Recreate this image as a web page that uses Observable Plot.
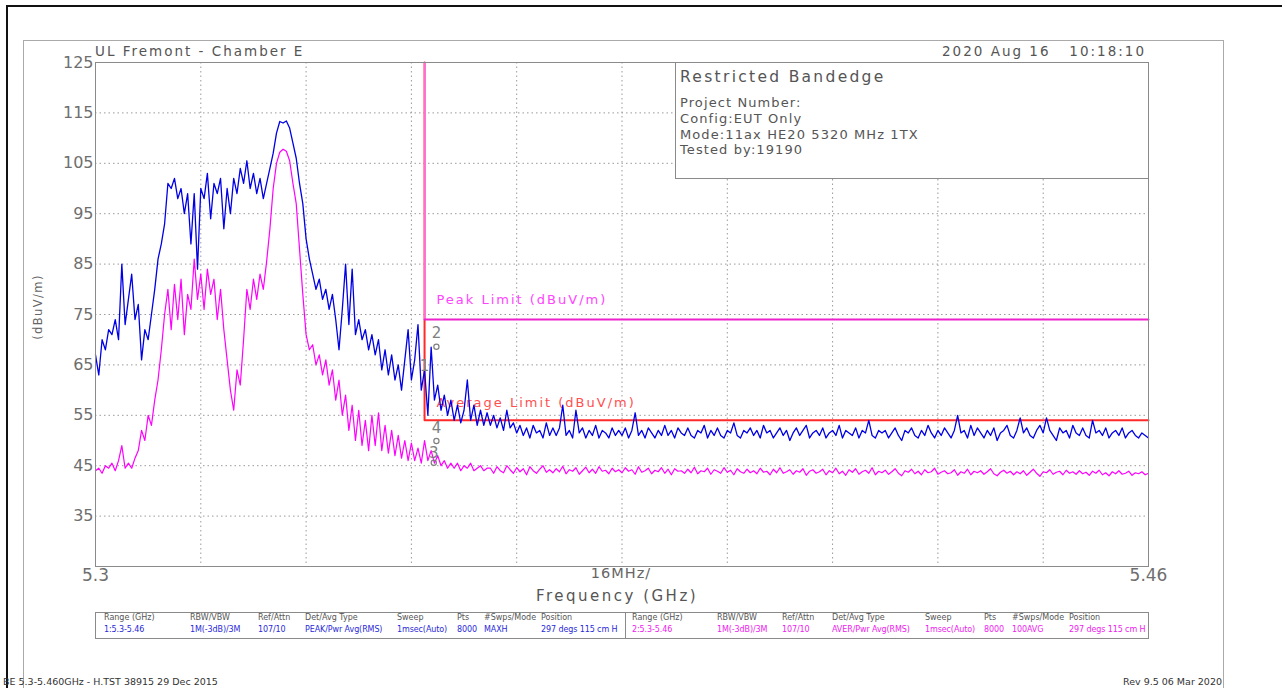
<!DOCTYPE html>
<html><head><meta charset="utf-8">
<script src="https://cdn.jsdelivr.net/npm/d3@7"></script>
<script src="https://cdn.jsdelivr.net/npm/@observablehq/plot@0.6"></script>
<style>
html,body{margin:0;padding:0;background:#fff;}
#page{position:relative;width:1282px;height:688px;overflow:hidden;font-family:"DejaVu Sans",sans-serif;}
#page svg{position:absolute;left:0;top:0;}
.t{position:absolute;white-space:pre;color:#555;line-height:1;}
.box{position:absolute;box-sizing:border-box;}
</style></head><body><div id="page"></div>
<script>
// Frequency sampling of the traces (GHz)
const startGHz = 5.3, stepGHz = 0.0005;

// Trace 1: Peak (MaxHold) in dBuV/m, one value every 0.5 MHz
const peakTrace = [
67,63,70,68,72,71,74,70,85,73,78,83,74,77,66,72,70,75,80,86,
89,93,101,100,102,98,100,95,99,89,99,84,100,98,103,94,101,99,102,92,
100,95,102,99,104,101,105.5,100,103,99,102,98,101,104,107,111,113.3,113,113.4,112,
109,106,101,97,90,86,83,80,82,78,80,76,79,74,68,76,85,73,84,71,
74,70,72,68,71,67,70,64,68,63,67,62,65,60,66,72,62,66,73,60,
64,55,68.5,58,61,56,59,55,58,54,57,53.5,56,62,54,57,53,56,53,55.5,
53,55,52.5,54.5,52,56,52.5,53.5,51.5,53,51,52.5,50.5,53,51.5,52,50.5,53.5,51,52.5,
51,52.5,57,51,52,50.5,56,51.5,52.5,50.5,52,51,53,50.5,52,51.5,50.5,52.5,51,52,
51,52.5,50.5,52,55.5,51,52,50.5,52.5,51.5,50.5,52,51,53,51,52,50.5,52.5,51.5,51,
52.5,51,50.5,52,51.5,53,50.5,52,51,52.5,51,50.5,52,51.5,53.5,51,50.5,52,51.5,52.5,
51,52,50.5,53,51.5,52,50.5,51.5,52.5,51,52,50,51.5,52.5,51,52,53,50.5,51.5,52,
51,52.5,50.5,51.5,52,51,53,50.5,52,51.5,51,52.5,50.5,52,51.5,54,51,50.5,52,51.5,
52,50.5,51.5,52.5,51,50,52,51.5,52.5,51,50.5,52,51,53,51.5,50.5,52,51,52.5,51.5,
50.5,52,55,51.5,52,50.5,53,51,52.5,51.5,50.5,52,51,52.5,50,51.5,52,53,51,50.5,
52,54.5,51.5,52.5,51,50.5,52,53,51.5,54.5,52,51,50,52.5,51.5,52,50.5,53,51.5,51,
52.5,51,50.5,54,51.5,52,51,52.5,50.5,51.5,52,51,52.5,50.5,51.5,52,51,50.5,51.5,51,
50.5
];

// Trace 2: Average in dBuV/m, one value every 0.5 MHz
const avgTrace = [
44,44.5,43.5,45,44.5,45.5,44,46,49,44.5,45.5,44.5,46.5,48,52,50,55,53,58,62,
68,75,80,72,81,74,82,71,79,76,86,78,83,76,84,79,82,74,80,72,
66,60,56,64,61,70,80,76,82,78,83,80,85.5,92,100,105,107.2,107.8,107.4,105.5,
101,97,88,79,71,68,69,65,67,63,66,61,64,58,62,55,59,52,57,50,
56,49,54,48,55,49,55.5,48,53,47.5,52,47,51,46.5,50,46,49.5,46,48.5,45.5,
50,46,48,45.5,47,45,46,44.5,45.5,44.5,45.5,44,45,44.5,45.5,44,44.5,45,44,44.5,
44.5,43.5,44.8,44,43.6,45,44.2,43.5,44.6,43.8,44.4,43.2,44.8,44,43.5,44.3,45,43.7,44.2,43.6,
44.4,43.8,44.9,43.4,44.2,43.9,44.6,43.3,44,44.7,43.6,44.3,43.5,44.8,43.9,44.1,43.4,44.5,43.8,44.2,
43.6,44.6,43.9,44.2,43.3,44.8,43.7,44,44.5,43.4,44.1,43.8,44.6,43.5,44.3,43.2,44.4,43.9,44,43.5,
44.3,43.6,44.7,43.4,44,43.8,44.5,43.3,44.2,43.9,43.5,44.6,43.7,44.1,43.2,44.4,43.8,43.5,44.3,43.6,
44,43.4,44.5,43.7,43.9,43.2,44.3,43.6,44.6,43.5,43.8,44.2,43.3,44,43.7,44.4,43.1,43.9,44.2,43.5,
43.8,44.3,43.2,44,43.6,44.5,43.4,43.9,43.1,44.2,43.7,44.4,43.3,43.8,44.1,43.5,44.6,43.2,43.9,43.6,
44.1,43.3,43.8,44.4,43.5,43,44,43.7,44.3,43.4,43.9,43.2,44.2,43.6,43.8,44.5,43.3,43.7,44,43.4,
43.6,44.2,43.1,43.8,43.5,44.3,43.2,43.9,43.6,44,43.3,43.8,44.4,43.4,43,43.7,44.1,43.5,43.9,43.2,
43.8,43.4,44,43.1,43.7,44.3,43.5,42.9,43.8,43.6,44.2,43.3,43.7,43.9,43.2,44.1,43.5,43.8,43.3,44,
43.4,43.7,43.1,43.9,43.5,44.1,43.2,43.6,43,43.8,43.4,44,43.3,43.5,43.9,43.1,43.6,43.4,43.8,43.2,
43.5
];

// Axes / grid
const yTicks = [125,115,105,95,85,75,65,55,45,35];
const yGrid = [115,105,95,85,75,65,55,45,35];
const xGrid = [5.316,5.332,5.348,5.364,5.38,5.396,5.412,5.428,5.444];
const xTickLabels = [5.3, 5.46];

// Limit lines (restricted band edge at 5.35 GHz)
const limitFreq = [5.35, 5.35, 5.46];
const peakLimit = [125, 74, 74];
const avgLimit = [125, 54, 54];
const limitLabelText = ["Peak Limit (dBuV/m)", "Average Limit (dBuV/m)"];
const limitLabelFreq = [5.3518, 5.3518];
const limitLabelVal = [78.0, 57.5];

// Marker labels and marker points
const markerText = ["2","1","4","3"];
const markerTextFreq = [5.3518,5.3500,5.3518,5.3514];
const markerTextVal = [71.2,64.8,52.4,47.5];
const markerPtFreq = [5.3518,5.3518,5.3514];
const markerPtVal = [68.6,49.9,45.6];

const FONT = '"DejaVu Sans", sans-serif';
const page = document.getElementById("page");

const idx = [0,1,2];
const chart = Plot.plot({
  width: 1282, height: 688,
  marginLeft: 95, marginRight: 134, marginTop: 62, marginBottom: 122,
  style: {background: "transparent", fontFamily: FONT, color: "#666", overflow: "visible"},
  x: {domain: [5.3, 5.46]},
  y: {domain: [25, 125]},
  marks: [
    Plot.ruleX(xGrid, {stroke: "#9a9a9a", strokeDasharray: "1.5,3", strokeWidth: 1}),
    Plot.ruleY(yGrid, {stroke: "#9a9a9a", strokeDasharray: "1.5,3", strokeWidth: 1}),
    Plot.axisY(yTicks, {tickSize: 0, tickPadding: 2, fontSize: 16, fill: "#6e6e6e", label: null}),
    Plot.axisX(xTickLabels, {tickSize: 0, tickPadding: 2, fontSize: 17, fill: "#6e6e6e", label: null,
      tickFormat: d => String(+d.toFixed(2))}),
    Plot.line(idx, {x: i => limitFreq[i], y: i => avgLimit[i], stroke: "#ff2a2a", strokeWidth: 2}),
    Plot.line(idx, {x: i => limitFreq[i], y: i => peakLimit[i], filter: i => i < 2, stroke: "#ff66ff", strokeWidth: 1.3}),
    Plot.line(idx, {x: i => limitFreq[i], y: i => peakLimit[i], filter: i => i >= 1, stroke: "#ee22cc", strokeWidth: 2}),
    Plot.text([0,1], {x: i => limitLabelFreq[i], y: i => limitLabelVal[i], text: i => limitLabelText[i],
      textAnchor: "start", fontSize: 13, fill: i => i === 0 ? "#ff44ff" : "#ff5050", fontFamily: FONT}),
    Plot.lineY(avgTrace, {x: (d,i) => startGHz + i*stepGHz, y: d => d, stroke: "#ff00ff", strokeWidth: 1.2}),
    Plot.lineY(peakTrace, {x: (d,i) => startGHz + i*stepGHz, y: d => d, stroke: "#0000e6", strokeWidth: 1.3}),
    Plot.dot([0,1,2], {x: i => markerPtFreq[i], y: i => markerPtVal[i], r: 2.6, stroke: "#808080", strokeWidth: 1.2, fill: "none"}),
    Plot.text([0,1,2,3], {x: i => markerTextFreq[i], y: i => markerTextVal[i], text: i => markerText[i],
      fontSize: 15, fill: "#808080", fontFamily: FONT}),
    Plot.frame({stroke: "#8a8a8a", strokeWidth: 1})
  ]
});
page.appendChild(chart);
// widen the stroke-font look of the limit labels
chart.querySelectorAll("text").forEach(t => {
  if (limitLabelText.includes(t.textContent)) t.style.letterSpacing = "2px";
});

function txt(s, left, top, size, color, extra) {
  const d = document.createElement("div");
  d.className = "t";
  d.textContent = s;
  d.style.left = left + "px"; d.style.top = top + "px";
  d.style.fontSize = size + "px"; d.style.color = color;
  if (extra) Object.assign(d.style, extra);
  page.appendChild(d);
  return d;
}
function box(left, top, w, h, style) {
  const d = document.createElement("div");
  d.className = "box";
  d.style.left = left + "px"; d.style.top = top + "px";
  d.style.width = w + "px"; d.style.height = h + "px";
  Object.assign(d.style, style);
  page.appendChild(d);
  return d;
}

// outer black border and grey sheet frame
box(6, 5, 1290, 700, {borderTop: "2px solid #111", borderLeft: "2px solid #111"});
box(23, 40, 1201, 700, {border: "1px solid #aaa"});

// header
txt("UL Fremont - Chamber E", 95, 45, 13.5, "#555", {letterSpacing: "2px"});
txt("2020 Aug 16   10:18:10", 0, 45, 13.5, "#555", {letterSpacing: "2px", width: "1146px", textAlign: "right", left: "0px"});

// info box
box(675, 62, 474, 117, {border: "1px solid #8a8a8a", background: "#fff"});
txt("Restricted Bandedge", 680, 70, 15.5, "#555", {letterSpacing: "2.3px"});
const infoLines = ["Project Number:", "Config:EUT Only", "Mode:11ax HE20 5320 MHz 1TX", "Tested by:19190"];
infoLines.forEach((s,i) => txt(s, 680, 96 + i*15.8, 13, "#555", {letterSpacing: "1.1px"}));

// y label
txt("(dBuV/m)", 39, 307, 11.5, "#666", {letterSpacing: "1.4px", transform: "translate(-50%,-50%) rotate(-90deg)"});

// x labels
txt("16MHz/", 621, 566, 14.5, "#666", {letterSpacing: "1px", transform: "translateX(-50%)"});
txt("Frequency (GHz)", 617, 589, 15, "#555", {letterSpacing: "2.5px", transform: "translateX(-50%)"});

// settings table
box(95, 612, 1054, 27, {border: "1px solid #8a8a8a"});
box(625, 612, 1, 27, {background: "#8a8a8a"});
const headers = ["Range (GHz)","RBW/VBW","Ref/Attn","Det/Avg Type","Sweep","Pts","#Swps/Mode","Position"];
const colsL = [104,190,258,305,397,457,484,541];
const colsR = [632,717,782,832,925,984,1012,1069];
const valsL = ["1:5.3-5.46","1M(-3dB)/3M","107/10","PEAK/Pwr Avg(RMS)","1msec(Auto)","8000","MAXH","297 degs 115 cm H"];
const valsR = ["2:5.3-5.46","1M(-3dB)/3M","107/10","AVER/Pwr Avg(RMS)","1msec(Auto)","8000","100AVG","297 degs 115 cm H"];
headers.forEach((h,i) => { txt(h, colsL[i], 614, 8, "#555"); txt(h, colsR[i], 614, 8, "#555"); });
valsL.forEach((v,i) => txt(v, colsL[i], 626, 8, "#2a2ad8", {letterSpacing: "-0.1px"}));
valsR.forEach((v,i) => txt(v, colsR[i], 626, 8, "#ee22ee", {letterSpacing: "-0.1px"}));

// footer
txt("BE 5.3-5.460GHz - H.TST 38915 29 Dec 2015", 3, 677, 9.5, "#333");
txt("Rev 9.5 06 Mar 2020", 0, 677, 9.5, "#333", {width: "1222px", textAlign: "right", left: "0px"});
</script></body></html>
